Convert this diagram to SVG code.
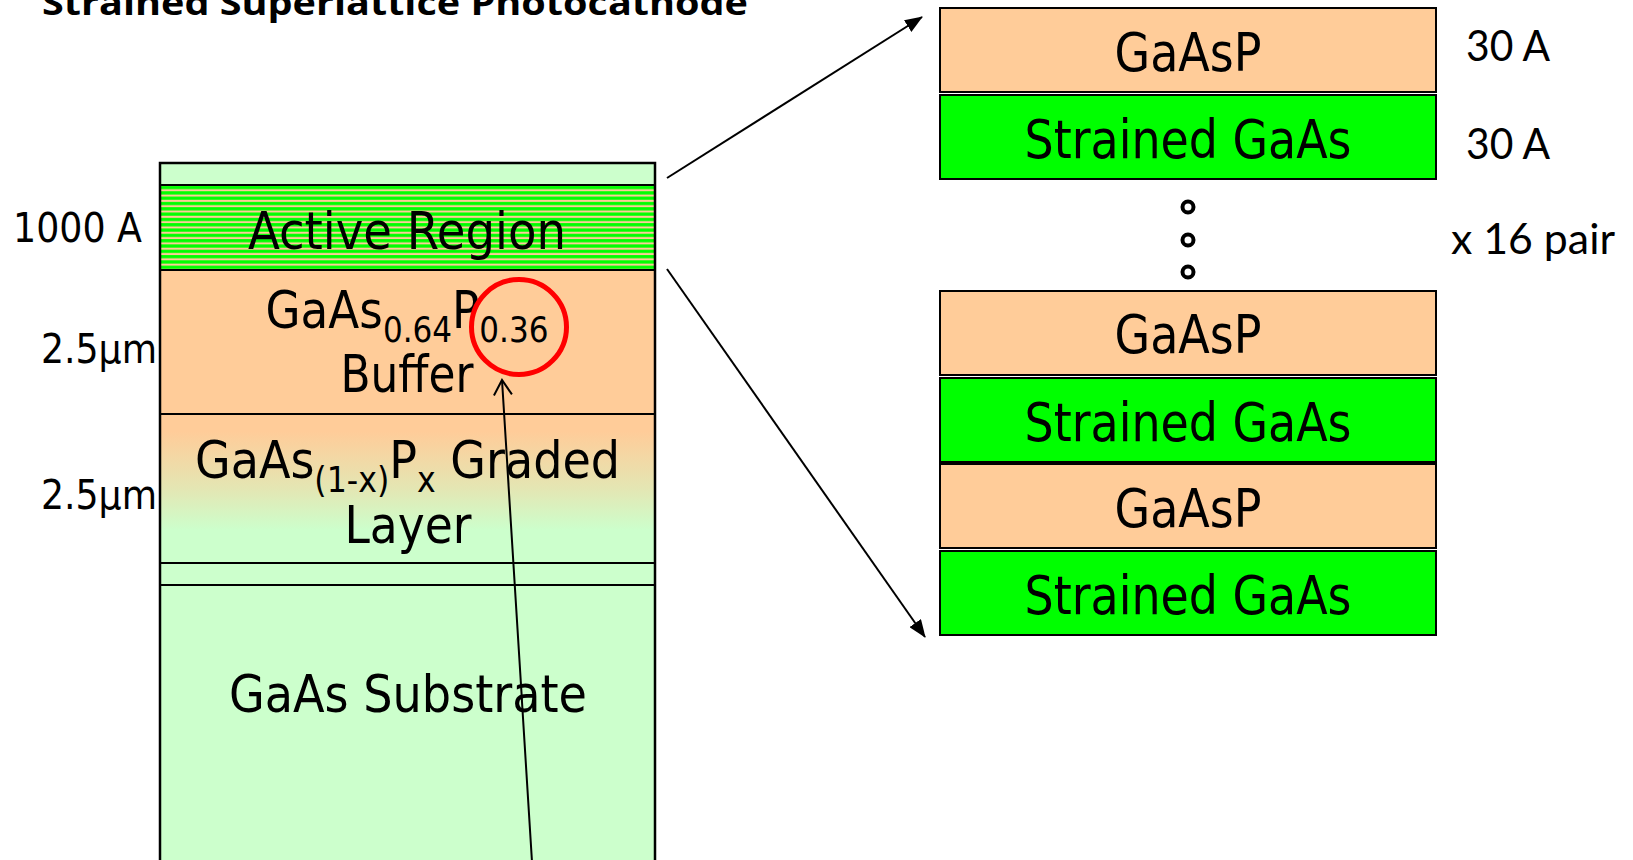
<svg xmlns="http://www.w3.org/2000/svg" width="1633" height="860" viewBox="0 0 1633 860">
  <style>
    .lbl { font-family: "DejaVu Sans Condensed", "DejaVu Sans", sans-serif; fill: #000; }
    .big { font-size: 51px; text-anchor: middle; }
    .box { font-size: 53px; text-anchor: middle; }
    .side { font-size: 41px; }
    .dim { font-family: Lato, "Open Sans", sans-serif; font-size: 42px; fill: #000; }
    .title { font-family: "Open Sans", "DejaVu Sans", sans-serif; font-weight: 700; font-size: 34px; fill: #000; }
    .peach { fill: #FFCC99; stroke: #000; stroke-width: 2; }
    .green { fill: #00FF00; stroke: #000; stroke-width: 2; }
    .pale { fill: #CCFFCC; stroke: #000; stroke-width: 2; }
    .edge { stroke: #000; stroke-width: 2; fill: none; }
    .dot { fill: none; stroke: #000; stroke-width: 4; }
  </style>
  <defs>
    <linearGradient id="grade" x1="0" y1="0" x2="0" y2="1">
      <stop offset="0" stop-color="#FFCC99"/>
      <stop offset="0.12" stop-color="#FFCC99"/>
      <stop offset="0.5" stop-color="#E4E6B3"/>
      <stop offset="0.78" stop-color="#CCFFCC"/>
      <stop offset="1" stop-color="#CCFFCC"/>
    </linearGradient>
    <linearGradient id="stripe" x1="0" y1="0" x2="0" y2="1">
      <stop offset="0" stop-color="#FFCC99"/>
      <stop offset="0.14" stop-color="#FFCC99"/>
      <stop offset="0.26" stop-color="#00FF00"/>
      <stop offset="0.72" stop-color="#00FF00"/>
      <stop offset="0.84" stop-color="#FFCC99"/>
      <stop offset="1" stop-color="#FFCC99"/>
    </linearGradient>
    <!-- 16 GaAsP / GaAs pairs across the 85 px active region -->
    <pattern id="superlattice" patternUnits="userSpaceOnUse" x="160" y="185" width="20" height="5.3125">
      <rect x="0" y="0" width="20" height="5.3125" fill="url(#stripe)"/>
    </pattern>
    <marker id="solid" viewBox="0 0 18 14" refX="17" refY="7" markerWidth="18" markerHeight="14" markerUnits="userSpaceOnUse" orient="auto">
      <path d="M0,0 L18,7 L0,14 z" fill="#000"/>
    </marker>
    <marker id="open" viewBox="0 0 20 20" refX="18" refY="10" markerWidth="20" markerHeight="20" markerUnits="userSpaceOnUse" orient="auto">
      <path d="M3,1 L18,10 L3,19" fill="none" stroke="#000" stroke-width="2"/>
    </marker>
  </defs>

  <rect width="1633" height="860" fill="#FFFFFF"/>

  <text class="title" x="42" y="15" textLength="706" lengthAdjust="spacingAndGlyphs">Strained Superlattice Photocathode</text>

  <!-- left: full cathode layer stack -->
  <g id="cap-layer">
    <rect class="pale" x="160" y="163" width="495" height="22"/>
  </g>
  <g id="active-region">
    <rect x="160" y="185" width="495" height="85" fill="url(#superlattice)"/>
    <rect class="edge" x="160" y="185" width="495" height="85"/>
    <text class="lbl big" x="407" y="249" textLength="318" lengthAdjust="spacingAndGlyphs">Active Region</text>
  </g>
  <g id="buffer">
    <rect class="peach" x="160" y="270" width="495" height="144"/>
    <text class="lbl big" x="407" y="328" textLength="283" lengthAdjust="spacingAndGlyphs">GaAs<tspan font-size="35" dy="14">0.64</tspan><tspan dy="-14">P</tspan><tspan font-size="35" dy="14">0.36</tspan></text>
    <text class="lbl big" x="407" y="392" textLength="133" lengthAdjust="spacingAndGlyphs">Buffer</text>
  </g>
  <g id="graded-layer">
    <rect x="160" y="414" width="495" height="149" fill="url(#grade)" stroke="#000" stroke-width="2"/>
    <text class="lbl big" x="407.5" y="478" textLength="425" lengthAdjust="spacingAndGlyphs">GaAs<tspan font-size="35" dy="14">(1-x)</tspan><tspan dy="-14">P</tspan><tspan font-size="35" dy="14">x</tspan><tspan dy="-14"> Graded</tspan></text>
    <text class="lbl big" x="408" y="543" textLength="127" lengthAdjust="spacingAndGlyphs">Layer</text>
  </g>
  <g id="transition-layer">
    <rect class="pale" x="160" y="563" width="495" height="22"/>
  </g>
  <g id="substrate">
    <rect class="pale" x="160" y="585" width="495" height="290"/>
    <text class="lbl big" x="408" y="712" textLength="358" lengthAdjust="spacingAndGlyphs">GaAs Substrate</text>
  </g>
  <rect x="160" y="163" width="495" height="712" fill="none" stroke="#000" stroke-width="2.5"/>

  <g id="thickness-labels">
    <text class="lbl side" x="13" y="242" textLength="129" lengthAdjust="spacingAndGlyphs">1000 A</text>
    <text class="lbl side" x="41" y="363" textLength="116" lengthAdjust="spacingAndGlyphs">2.5μm</text>
    <text class="lbl side" x="41" y="509" textLength="116" lengthAdjust="spacingAndGlyphs">2.5μm</text>
  </g>

  <g id="composition-mark">
    <circle cx="519" cy="327" r="47.5" fill="none" stroke="#FF0000" stroke-width="5"/>
  </g>

  <!-- right: superlattice detail -->
  <g id="sl-top-gaasp">
    <rect class="peach" x="940" y="8" width="496" height="84"/>
    <text class="lbl box" x="1188" y="71" textLength="147" lengthAdjust="spacingAndGlyphs">GaAsP</text>
  </g>
  <g id="sl-top-gaas">
    <rect class="green" x="940" y="95" width="496" height="84"/>
    <text class="lbl box" x="1188" y="158" textLength="327" lengthAdjust="spacingAndGlyphs">Strained GaAs</text>
  </g>
  <g id="sl-repeat">
    <circle class="dot" cx="1188" cy="207" r="5.5"/>
    <circle class="dot" cx="1188" cy="240" r="5.5"/>
    <circle class="dot" cx="1188" cy="272" r="5.5"/>
  </g>
  <g id="sl-gaasp-1">
    <rect class="peach" x="940" y="291" width="496" height="84"/>
    <text class="lbl box" x="1188" y="353" textLength="147" lengthAdjust="spacingAndGlyphs">GaAsP</text>
  </g>
  <g id="sl-gaas-1">
    <rect class="green" x="940" y="378" width="496" height="84"/>
    <text class="lbl box" x="1188" y="441" textLength="327" lengthAdjust="spacingAndGlyphs">Strained GaAs</text>
  </g>
  <g id="sl-gaasp-2">
    <rect class="peach" x="940" y="464" width="496" height="84"/>
    <text class="lbl box" x="1188" y="527" textLength="147" lengthAdjust="spacingAndGlyphs">GaAsP</text>
  </g>
  <g id="sl-gaas-2">
    <rect class="green" x="940" y="551" width="496" height="84"/>
    <text class="lbl box" x="1188" y="614" textLength="327" lengthAdjust="spacingAndGlyphs">Strained GaAs</text>
  </g>

  <g id="sl-labels">
    <text class="dim" x="1466" y="61" textLength="84" lengthAdjust="spacingAndGlyphs">30 A</text>
    <text class="dim" x="1466" y="159" textLength="84" lengthAdjust="spacingAndGlyphs">30 A</text>
    <text class="dim" x="1451" y="254" textLength="164" lengthAdjust="spacingAndGlyphs">x 16 pair</text>
  </g>

  <g id="connectors" stroke="#000" stroke-width="2" fill="none">
    <line x1="667" y1="178" x2="922" y2="17" marker-end="url(#solid)"/>
    <line x1="667" y1="269" x2="925" y2="637" marker-end="url(#solid)"/>
    <line x1="532" y1="862" x2="502" y2="380" marker-end="url(#open)"/>
  </g>
</svg>
